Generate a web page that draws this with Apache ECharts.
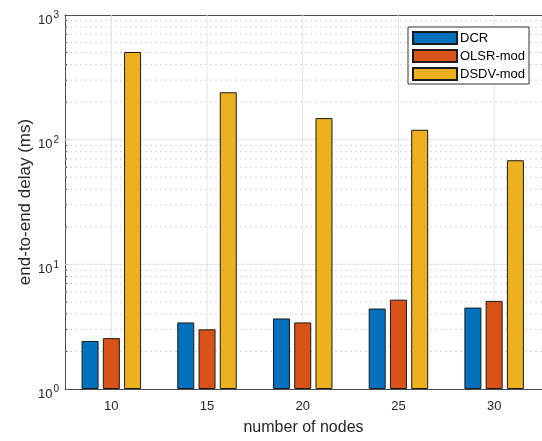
<!DOCTYPE html>
<html>
<head>
<meta charset="utf-8">
<script src="https://cdn.jsdelivr.net/npm/echarts@6/dist/echarts.min.js"></script>
<style>html,body{margin:0;padding:0;background:#fff;}#c{width:542px;height:441px;}</style>
</head>
<body>
<div id="c"></div>
<script>
var nodes = [10, 15, 20, 25, 30];
var dcr = [2.43, 3.42, 3.68, 4.42, 4.50];
var olsr = [2.56, 3.01, 3.42, 5.21, 5.09];
var dsdv = [505, 240, 149, 120, 68.4];
var seriesNames = ['DCR', 'OLSR-mod', 'DSDV-mod'];
var minorY = [2,3,4,5,6,7,8,9,20,30,40,50,60,70,80,90,200,300,400,500,600,700,800,900];
var majorY = [10, 100];

var X_MIN = 7.58, X_MAX = 32.5;
function pairs(vals) { return nodes.map(function (n, i) { return [n, vals[i]]; }); }
function hline(v) { return [[X_MIN, v], [X_MAX, v]]; }
function tickSeg(v) { return [[X_MIN, v], [X_MIN + 0.12, v]]; }

var FONT = 'Liberation Sans, Arial, sans-serif';
var chart = echarts.init(document.getElementById('c'), null, {renderer: 'canvas'});
var axisColor = '#4d4d4d';
var textColor = '#262626';

var barStyle = function (c) { return {color: c, borderColor: '#1a1a1a', borderWidth: 1}; };

var series = [];
minorY.forEach(function (v) {
  series.push({type: 'line', data: hline(v), symbol: 'none', silent: true, z: 0,
    lineStyle: {type: [2, 3], color: '#d4d4d4', width: 1}});
  series.push({type: 'line', data: tickSeg(v), symbol: 'none', silent: true, z: 4,
    lineStyle: {type: 'solid', color: axisColor, width: 1}});
});
majorY.forEach(function (v) {
  series.push({type: 'line', data: hline(v), symbol: 'none', silent: true, z: 0,
    lineStyle: {type: 'solid', color: '#e3e3e3', width: 1}});
});
nodes.forEach(function (v) {
  series.push({type: 'line', data: [[v, 1], [v, 1000]], symbol: 'none', silent: true, z: 0,
    lineStyle: {type: 'solid', color: '#e3e3e3', width: 1}});
});
series.push({type: 'bar', name: seriesNames[0], data: pairs(dcr), barWidth: 17, barGap: '25%', itemStyle: barStyle('#0072BD'), z: 3});
series.push({type: 'bar', name: seriesNames[1], data: pairs(olsr), barWidth: 17, barGap: '25%', itemStyle: barStyle('#D95319'), z: 3});
series.push({type: 'bar', name: seriesNames[2], data: pairs(dsdv), barWidth: 17, barGap: '25%', itemStyle: barStyle('#EDB120'), z: 3});

chart.setOption({
  animation: false,
  backgroundColor: '#fff',
  grid: {left: 65, top: 15, width: 478.5, bottom: 50},
  legend: {
    data: seriesNames,
    orient: 'vertical',
    left: 408, top: 27,
    itemWidth: 44, itemHeight: 12, itemGap: 4,
    padding: [4, 4, 3, 4],
    backgroundColor: '#fff',
    borderColor: '#333', borderWidth: 1,
    icon: 'rect',
    textStyle: {fontSize: 13, lineHeight: 14, color: '#000', fontFamily: FONT, padding: [0, 0, 0, -2]}
  },
  xAxis: [{
    type: 'value', min: X_MIN, max: X_MAX,
    name: 'number of nodes', nameLocation: 'middle', nameGap: 31,
    nameTextStyle: {fontSize: 16, color: textColor, fontFamily: FONT},
    axisLine: {show: true, lineStyle: {color: axisColor, width: 1}},
    axisTick: {show: false},
    splitLine: {show: false},
    axisLabel: {customValues: nodes, fontSize: 13, color: textColor, margin: 11, fontFamily: FONT}
  }, {
    type: 'value', position: 'top', min: X_MIN, max: X_MAX,
    axisLine: {show: true, onZero: false, lineStyle: {color: axisColor, width: 1}},
    axisTick: {show: false}, axisLabel: {show: false}, splitLine: {show: false}
  }],
  yAxis: {
    type: 'log', logBase: 10, min: 1, max: 1000, interval: 1,
    name: 'end-to-end delay (ms)', nameLocation: 'middle', nameGap: 31, nameMoveOverlap: false,
    nameTextStyle: {fontSize: 17, color: textColor, fontFamily: FONT},
    axisLine: {show: true, lineStyle: {color: axisColor, width: 1}},
    axisTick: {show: true, inside: true, length: 4, lineStyle: {color: axisColor}},
    splitLine: {show: false},
    axisLabel: {
      margin: 6, color: textColor, fontSize: 13, fontFamily: FONT, padding: [10, 0, 0, 0],
      formatter: function (v) { var e = Math.round(Math.log10(v)); return '10{sup|' + e + '}'; },
      rich: {sup: {fontSize: 10, color: textColor, verticalAlign: 'top', padding: [0, 0, 9, 1], fontFamily: FONT}}
    }
  },
  series: series
});
</script>
</body>
</html>
